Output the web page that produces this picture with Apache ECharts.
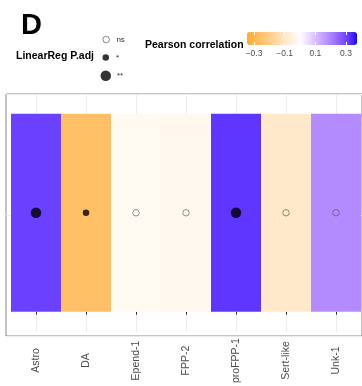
<!DOCTYPE html>
<html><head><meta charset="utf-8">
<script src="https://cdn.jsdelivr.net/npm/echarts@6/dist/echarts.min.js"></script>
<style>html,body{margin:0;padding:0;background:#fff}#c{width:362px;height:386px}</style>
</head><body><div id="c"></div>
<script>
// ---- data ----
const categories = ['Astro', 'DA', 'Epend-1', 'FPP-2', 'proFPP-1', 'Sert-like', 'Unk-1'];
const correlation = [0.305, -0.26, -0.022, -0.026, 0.32, -0.089, 0.186];
const significance = ['**', '*', 'ns', 'ns', '**', 'ns', 'ns'];
const sigLevels = ['ns', '*', '**'];
const colorbarTicks = [-0.3, -0.1, 0.1, 0.3];
const scaleLimits = [-0.346, 0.372];

// ---- Lab gradient (ggplot scale_fill_gradient2 style) ----
function toLin(c){c/=255;return c<=0.04045?c/12.92:Math.pow((c+0.055)/1.055,2.4);}
function toSrgb(v){v=Math.max(0,Math.min(1,v));return Math.round(255*(v<=0.0031308?12.92*v:1.055*Math.pow(v,1/2.4)-0.055));}
const Xn=0.95047,Yn=1,Zn=1.08883;
function f(t){return t>0.008856?Math.cbrt(t):7.787*t+16/116;}
function fi(t){return t>0.206893?t*t*t:(t-16/116)/7.787;}
function rgb2lab(r,g,b){r=toLin(r);g=toLin(g);b=toLin(b);
  const X=0.4124*r+0.3576*g+0.1805*b,Y=0.2126*r+0.7152*g+0.0722*b,Z=0.0193*r+0.1192*g+0.9505*b;
  const fx=f(X/Xn),fy=f(Y/Yn),fz=f(Z/Zn);return [116*fy-16,500*(fx-fy),200*(fy-fz)];}
function lab2rgb(L,a,b){const fy=(L+16)/116,fx=fy+a/500,fz=fy-b/200;
  const X=Xn*fi(fx),Y=Yn*fi(fy),Z=Zn*fi(fz);
  const r=3.2406*X-1.5372*Y-0.4986*Z,g=-0.9689*X+1.8758*Y+0.0415*Z,bb=0.0557*X-0.2040*Y+1.0570*Z;
  return 'rgb('+toSrgb(r)+','+toSrgb(g)+','+toSrgb(bb)+')';}
const LW=rgb2lab(255,255,255),LO=rgb2lab(255,165,0),LB=rgb2lab(0,0,255);
const half=Math.max(Math.abs(scaleLimits[0]),Math.abs(scaleLimits[1]));
function grad2(v){const t=v/half;const e=t<0?LO:LB;const s=Math.min(1,Math.abs(t));
  return lab2rgb(LW[0]+(e[0]-LW[0])*s,LW[1]+(e[1]-LW[1])*s,LW[2]+(e[2]-LW[2])*s);}
const stops=[];const N=80;
for(let i=0;i<=N;i++){stops.push(grad2(scaleLimits[0]+(scaleLimits[1]-scaleLimits[0])*i/N));}

const FONT='Liberation Sans, Arial, sans-serif';
const minus = v => String(v).replace('-', '\u2212');

const dotStyle = {
  'ns': {size: 6.5, itemStyle: {color: 'rgba(0,0,0,0)', borderColor: '#555', borderWidth: 0.8}},
  '*': {size: 6.5, itemStyle: {color: '#000', borderWidth: 0}},
  '**': {size: 10.5, itemStyle: {color: '#000', borderWidth: 0}}
};
const legendIcon = {
  'ns': {color: '#fff', borderColor: '#444', borderWidth: 0.8},
  '*': {color: '#000', borderWidth: 0},
  '**': {color: '#000', borderWidth: 0}
};
const dotSeries = sigLevels.map(s => ({
  type: 'scatter', name: s, xAxisIndex: 0, yAxisIndex: 0, z: 5,
  symbol: 'circle', symbolSize: dotStyle[s].size, itemStyle: dotStyle[s].itemStyle,
  data: categories.map((c, i) => significance[i] === s ? [c, 0.5] : null).filter(d => d)
}));

const legendPos = {'ns': {top: 35.5, left: 102.5}, '*': {top: 53.5, left: 102.5}, '**': {top: 70.5, left: 100.5}};
const legends = sigLevels.map(s => ({
  data: [{name: s, itemStyle: legendIcon[s]}], left: legendPos[s].left, top: legendPos[s].top, padding: 0,
  itemWidth: dotStyle[s].size, itemHeight: dotStyle[s].size, selectedMode: false,
  textStyle: {fontSize: 8, color: '#333', fontFamily: FONT, padding: [0, 0, 0, s === '**' ? 1 : 2]}
}));

const chart = echarts.init(document.getElementById('c'), null, {renderer: 'canvas'});
chart.setOption({
  animation: false,
  backgroundColor: '#fff',
  title: [
    {text: 'D', left: 21, top: 11, padding: 0, textStyle: {fontSize: 29, fontWeight: 'bold', color: '#000', fontFamily: FONT, lineHeight: 30}},
    {text: 'LinearReg P.adj', left: 16, top: 51, padding: 0, textStyle: {fontSize: 10.5, fontWeight: 'bold', color: '#000', fontFamily: FONT}},
    {text: 'Pearson correlation', left: 145, top: 40, padding: 0, textStyle: {fontSize: 10.5, fontWeight: 'bold', color: '#000', fontFamily: FONT}}
  ],
  legend: legends,
  visualMap: {
    type: 'continuous', orient: 'horizontal', min: scaleLimits[0], max: scaleLimits[1],
    seriesIndex: 0, dimension: 2, left: 247, top: 32, itemWidth: 13, itemHeight: 110,
    calculable: false, text: null, showLabel: false, padding: 0, inRange: {color: stops}
  },
  grid: [
    {left: 11, top: 94, width: 350, height: 242, containLabel: false},
    {left: 6, top: 94, width: 370, height: 242, show: true, backgroundColor: '#fff', borderColor: '#888', borderWidth: 1, z: -1},
    {left: 247, top: 32, width: 110, height: 13}
  ],
  xAxis: [
    {type: 'category', gridIndex: 0, data: categories, boundaryGap: true,
     axisLine: {show: false},
     axisTick: {show: true, alignWithLabel: true, length: 3, lineStyle: {color: '#333'}},
     splitLine: {show: true, alignWithLabel: true, lineStyle: {color: '#ebebeb', width: 1}},
     axisLabel: {rotate: 90, interval: 0, align: 'center', verticalAlign: 'middle', fontSize: 10.5, color: '#4d4d4d', margin: 29, fontFamily: FONT}},
    {type: 'value', gridIndex: 1, min: 0, max: 1, show: false},
    {type: 'value', gridIndex: 2, min: scaleLimits[0], max: scaleLimits[1], position: 'bottom', z: 10,
     axisLine: {show: false}, splitLine: {show: false},
     axisTick: {show: true, inside: true, length: 3, customValues: colorbarTicks, lineStyle: {color: '#fff'}},
     axisLabel: {show: true, customValues: colorbarTicks, formatter: minus, fontSize: 8.5, color: '#4d4d4d', margin: 4, fontFamily: FONT}},
    {type: 'value', gridIndex: 2, min: scaleLimits[0], max: scaleLimits[1], position: 'top', z: 10,
     axisLine: {show: false}, splitLine: {show: false}, axisLabel: {show: false},
     axisTick: {show: true, inside: true, length: 3, customValues: colorbarTicks, lineStyle: {color: '#fff'}}}
  ],
  yAxis: [
    {type: 'value', gridIndex: 0, min: -0.1, max: 1.1, show: false},
    {type: 'value', gridIndex: 1, min: 0, max: 2, interval: 1, axisLine: {show: false}, axisTick: {show: false}, axisLabel: {show: false},
     splitLine: {show: true, lineStyle: {color: '#ebebeb', width: 1}}},
    {type: 'value', gridIndex: 2, show: false}
  ],
  series: [
    {type: 'bar', xAxisIndex: 0, yAxisIndex: 0, barWidth: '100%', barCategoryGap: 0, z: 2,
     encode: {x: 0, y: 1},
     data: categories.map((c, i) => [c, 1, correlation[i]])},
    ...dotSeries
  ]
});
</script></body></html>
